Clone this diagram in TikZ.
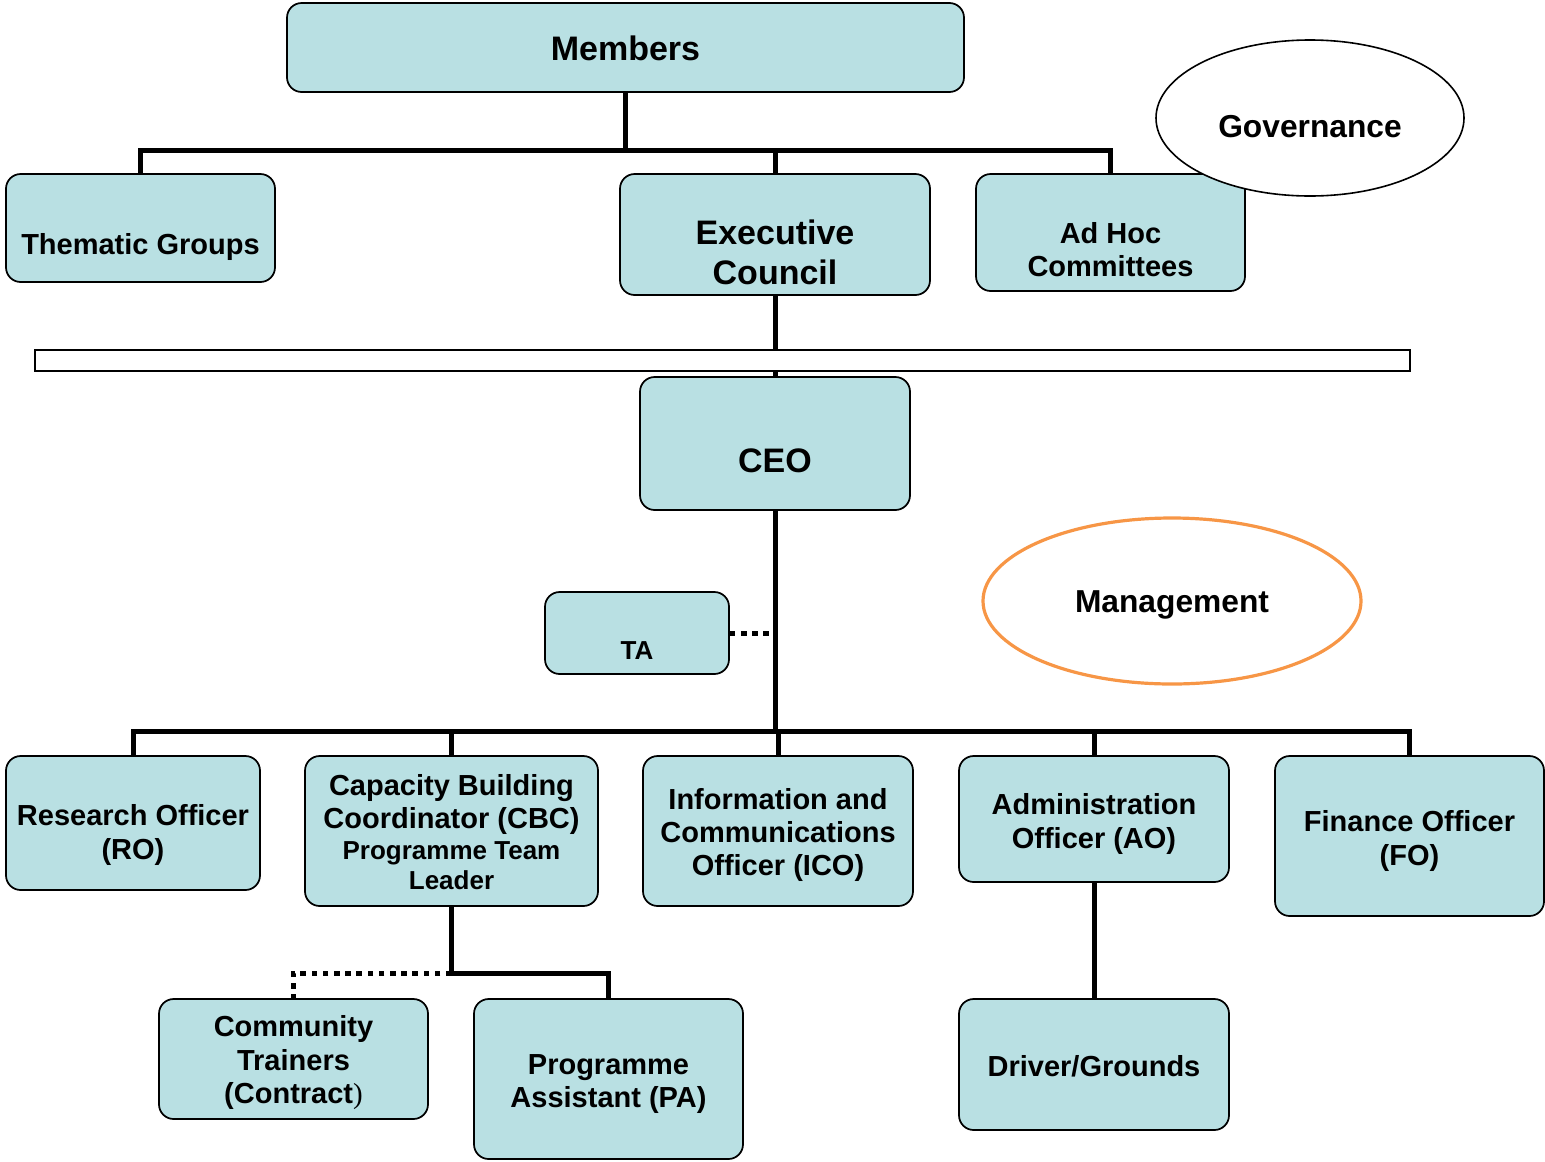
\documentclass[tikz,border=0pt]{standalone}
\usepackage{fontspec}
\setmainfont{Liberation Sans}
\newfontfamily\parenfont{Liberation Serif}
\usetikzlibrary{shapes.geometric}

\definecolor{boxfill}{RGB}{185,224,227}
\definecolor{mgmtline}{RGB}{247,150,70}

% font sizes used in the chart
\newcommand{\fsnorm}{\fontsize{21.75pt}{25.1pt}\selectfont\bfseries}
\newcommand{\fsbig}{\fontsize{25.5pt}{30pt}\selectfont\bfseries}
\newcommand{\fsoval}{\fontsize{23.8pt}{28pt}\selectfont\bfseries}
\newcommand{\fssmall}{\fontsize{19.5pt}{23pt}\selectfont\bfseries}

\begin{document}
\begin{tikzpicture}[x=0.75pt,y=-0.75pt,
  box/.style={draw=black, line width=1.3pt, fill=boxfill, rounded corners=11pt, inner sep=0pt},
  oval/.style={ellipse, draw=black, line width=1.2pt, fill=white, inner sep=0pt},
  sz/.style 2 args={minimum width=#1*0.75pt, minimum height=#2*0.75pt},
  txt/.style={font=\fsnorm, align=center, inner sep=0pt},
  conn/.style={line width=3.75pt, line join=miter},
  dotconn/.style={line width=3.75pt, dash pattern=on 4.2pt off 4.2pt}]

\useasboundingbox (0,0) rectangle (1545,1161);

% ---------- governance level ----------
\node[box, sz={677}{89}, label={[txt,font=\fsbig,yshift=-0.75pt]center:Members}] (members) at (625.5,47.5) {};
\node[box, sz={269}{108}, label={[txt,yshift=-14pt]center:Thematic Groups}] (thematic) at (140.5,228) {};
\node[box, sz={310}{121}, label={[txt,font=\fsbig,yshift=-13.5pt]center:Executive\\Council}] (exec) at (775,234.5) {};
\node[box, sz={269}{117}, label={[txt,yshift=-12.75pt]center:Ad Hoc\\Committees}] (adhoc) at (1110.5,232.5) {};
\node[oval, sz={308}{156}, label={[txt,font=\fsoval,yshift=-6.75pt]center:Governance}] (gov) at (1310,118) {};

\coordinate (mj) at (625.5,150);
\draw[conn] (members.south) -- (mj);
\draw[conn] (thematic.north) |- (mj) -| (adhoc.north);
\draw[conn] (mj) -| (exec.north);

% ---------- management level ----------
\node[box, sz={270}{133}, label={[txt,font=\fsbig,yshift=-12.75pt]center:CEO}] (ceo) at (775,443.5) {};
\draw[conn] (exec.south) -- (ceo.north);
\node[draw=black, line width=1pt, fill=white, sz={1375}{21}, inner sep=0pt] (divider) at (722.5,360.5) {};

\node[box, sz={184}{82}, label={[txt,font=\fssmall,yshift=-13.25pt]center:TA}] (ta) at (637,633) {};
\node[ellipse, draw=mgmtline, line width=2.4pt, fill=white, inner sep=0pt, sz={378}{166},
      label={[txt,font=\fsoval,yshift=-3pt]center:Management}] (mgmt) at (1172,601) {};

\node[box, sz={254}{134}, label={[txt,yshift=-9pt]center:Research Officer\\(RO)}] (ro) at (133,823) {};
\node[box, sz={293}{150}, label={[txt,yshift=-1pt]center:Capacity Building\\Coordinator (CBC)\\[-2pt]\fssmall Programme Team\\[-2.5pt]\fssmall Leader}] (cbc) at (451.5,831) {};
\node[box, sz={270}{150}, label={[txt,yshift=-3pt]center:Information and\\Communications\\Officer (ICO)}] (ico) at (778,831) {};
\node[box, sz={270}{126}, label={[txt,yshift=-3.75pt]center:Administration\\Officer (AO)}] (ao) at (1094,819) {};
\node[box, sz={269}{160}, label={[txt,yshift=-3.75pt]center:Finance Officer\\(FO)}] (fo) at (1409.5,836) {};

\coordinate (cj) at (775,731);
\draw[conn] (ceo.south) -- (cj);
\draw[conn] (ro.north) |- (cj) -| (fo.north);
\draw[conn] (cbc.north) -- (cbc.north |- cj);
\draw[conn] (ico.north) -- (ico.north |- cj);
\draw[conn] (ao.north) -- (ao.north |- cj);
\draw[dotconn] (ta.east) -- (ta.east -| ceo.south);

% ---------- staff level ----------
\node[box, sz={269}{120}, label={[txt,yshift=-3pt]center:Community\\Trainers\\(Contract{\parenfont\mdseries )}}] (ct) at (293.5,1059) {};
\node[box, sz={269}{160}, label={[txt,yshift=-3.75pt]center:Programme\\Assistant (PA)}] (pa) at (608.5,1079) {};
\node[box, sz={270}{131}, label={[txt,yshift=-1.5pt]center:Driver/Grounds}] (driver) at (1094,1064.5) {};

\coordinate (bj) at (451.5,973);
\draw[conn] (cbc.south) -- (bj) -| (pa.north);
\draw[dotconn] (bj) -| (ct.north);
\draw[conn] (ao.south) -- (driver.north);

\end{tikzpicture}
\end{document}
